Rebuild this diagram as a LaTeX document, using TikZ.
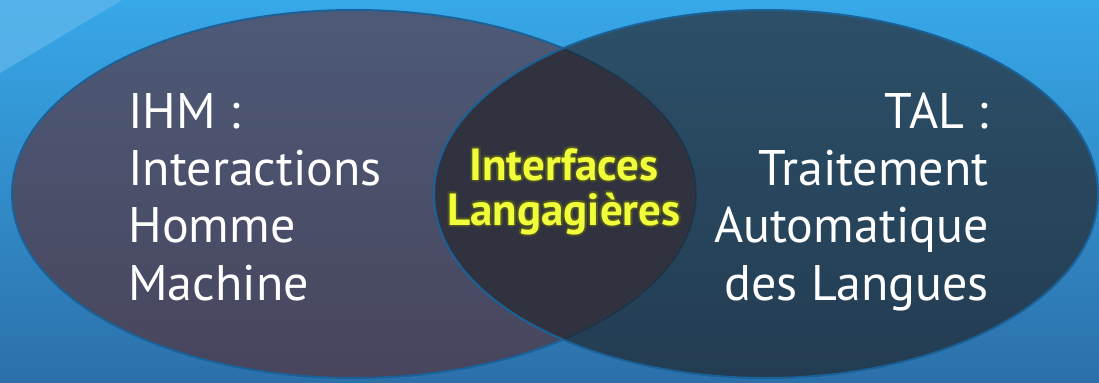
\documentclass[tikz,border=0pt]{standalone}
\usepackage{fontspec}
\setmainfont{PT Sans}
\usepackage{tikz}
\usetikzlibrary{calc}
\definecolor{bgtop}{HTML}{37A8E8}
\definecolor{bgbot}{HTML}{2C70AA}
\definecolor{bglight}{HTML}{63B8EC}
\definecolor{ihmtop}{HTML}{4D5A77}
\definecolor{ihmbot}{HTML}{48455D}
\definecolor{taltop}{HTML}{2C5068}
\definecolor{talbot}{HTML}{233C52}
\definecolor{lens}{HTML}{30333F}
\definecolor{rimblue}{HTML}{1A6197}
\definecolor{coreyellow}{HTML}{F0FF3A}
\definecolor{glow}{HTML}{5C5F1E}

\begin{document}
\begin{tikzpicture}[x=0.5pt,y=0.5pt,
  side/.style={text=white,inner sep=0pt,font=\fontsize{25}{29}\selectfont},
  core/.style={text=coreyellow,inner sep=0pt,font=\bfseries\fontsize{22.5}{26}\selectfont},
  rim/.style={draw=rimblue,line width=1pt}]

\useasboundingbox (0,0) rectangle (1099,382);

%fond
\shade[top color=bgtop,bottom color=bgbot] (0,0) rectangle (1099,382);
\fill[bglight,opacity=0.7] (0,382) -- (122,382) -- (0,309) -- cycle;

%IHM
\shadedraw[top color=ihmtop,bottom color=ihmbot,rim] (354,188) ellipse [x radius=342,y radius=184];

%TAL
\shade[top color=taltop,bottom color=talbot] (766,188) ellipse [x radius=332,y radius=184];

%intersection
\begin{scope}
\clip (354,188) ellipse [x radius=342,y radius=184];
\fill[lens] (766,188) ellipse [x radius=332,y radius=184];
\end{scope}
\begin{scope}
\clip (766,188) ellipse [x radius=332,y radius=184];
\draw[draw=rimblue!50!black,opacity=0.5,line width=0.8pt] (354,188) ellipse [x radius=342,y radius=184];
\end{scope}
\draw[rim] (766,188) ellipse [x radius=332,y radius=184];

%textes IHM
\node[side,anchor=base west] (ihm1) at (128,254) {IHM :};
\node[side,anchor=base west] (ihm2) at (128,196.7) {Interactions};
\node[side,anchor=base west] (ihm3) at (128,139.3) {Homme};
\node[side,anchor=base west] (ihm4) at (128,82) {Machine};

%textes TAL
\node[side,anchor=base east] (tal1) at (989,254) {TAL :};
\node[side,anchor=base east] (tal2) at (989,196.7) {Traitement};
\node[side,anchor=base east] (tal3) at (989,139.3) {Automatique};
\node[side,anchor=base east] (tal4) at (989,82) {des Langues};

%interfaces langagieres
\foreach \dx/\dy [count=\n] in {2/0,-2/0,0/2,0/-2,1.5/1.5,-1.5/1.5,1.5/-1.5,-1.5/-1.5}{
  \node[core,text=glow,opacity=0.45,anchor=base] (halo1\n) at ($(564,202)+(\dx,\dy)$) {Interfaces};
  \node[core,text=glow,opacity=0.45,anchor=base] (halo2\n) at ($(564,157)+(\dx,\dy)$) {Langagières};
}
\node[core,anchor=base] (il1) at (564,202) {Interfaces};
\node[core,anchor=base] (il2) at (564,157) {Langagières};

\end{tikzpicture}
\end{document}
